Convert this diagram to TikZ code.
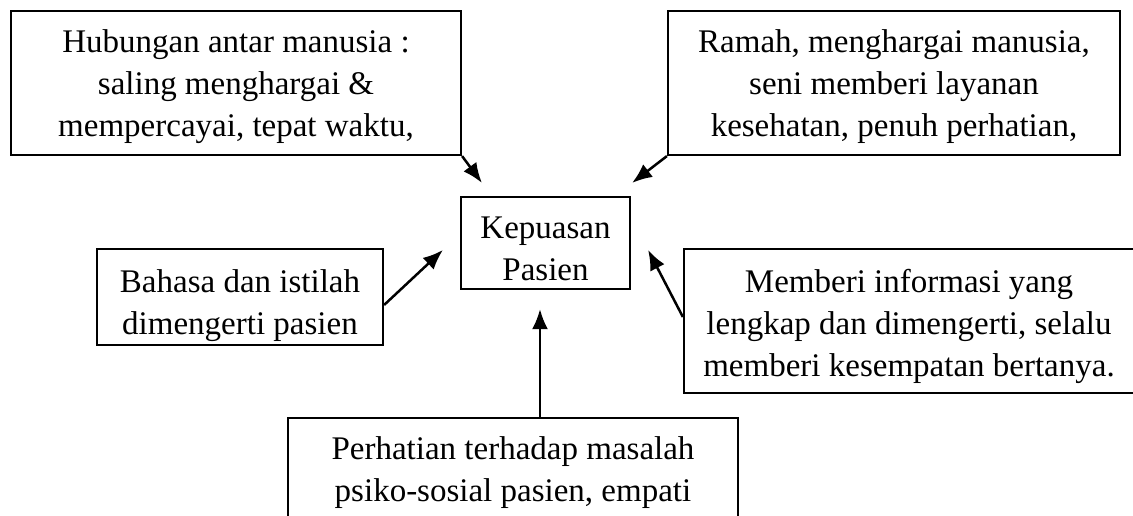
\documentclass[tikz,border=0pt]{standalone}
\usepackage{fontspec}
\setmainfont{Liberation Serif}
\usetikzlibrary{arrows.meta}
\newcommand{\tinggi}[1]{\rule{0pt}{#1}}
\tikzset{
  kotak/.style={draw,line width=2.2pt,align=center,inner sep=0pt},
  panah/.style={line width=2.5pt,-{Latex[length=20pt,width=16pt]}}
}
\begin{document}
\begin{tikzpicture}[x=1pt,y=1pt,font=\fontsize{33}{42}\selectfont]
  \useasboundingbox (0,0) rectangle (1133,-516);

  \path (236,-83) node[kotak,minimum width=450pt,minimum height=144pt] (hub)
    {\tinggi{30pt}Hubungan antar manusia :\\ saling menghargai \&\\ mempercayai, tepat waktu,};
  \path (894,-83) node[kotak,minimum width=452pt,minimum height=144pt] (ramah)
    {\tinggi{30pt}Ramah, menghargai manusia,\\ seni memberi layanan\\ kesehatan, penuh perhatian,};
  \path (545.5,-243) node[kotak,minimum width=169pt,minimum height=92pt] (kep)
    {\tinggi{33pt}Kepuasan\\ Pasien};
  \path (240,-297) node[kotak,minimum width=286pt,minimum height=96pt] (bahasa)
    {\tinggi{40pt}Bahasa dan istilah\\ dimengerti pasien};
  \path (909,-321) node[kotak,minimum width=450pt,minimum height=144pt] (memberi)
    {\tinggi{35pt}Memberi informasi yang\\ lengkap dan dimengerti, selalu\\ memberi kesempatan bertanya.};
  \path (513,-417) node[kotak,anchor=north,minimum width=450pt,inner ysep=18pt] (perh)
    {Perhatian terhadap masalah\\ psiko-sosial pasien, empati};

  % ujung panah di sekitar kotak tengah
  \coordinate (ujungA) at ([shift={(22,13)}]kep.north west);
  \coordinate (ujungB) at ([shift={(1,13)}]kep.north east);
  \coordinate (ujungC) at ([shift={(-17,-7)}]kep.west);
  \coordinate (ujungD) at ([shift={(17,-7)}]kep.east);
  \coordinate (ujungE) at ([shift={(-5.5,-19)}]kep.south);

  \draw[panah] (hub.south east) -- (ujungA);
  \draw[panah] (ramah.south west) -- (ujungB);
  \draw[panah] ([yshift=-8pt]bahasa.east) -- (ujungC);
  \draw[panah] ([yshift=4pt]memberi.west) -- (ujungD);
  \draw[panah] (perh.north -| ujungE) -- (ujungE);
\end{tikzpicture}
\end{document}
